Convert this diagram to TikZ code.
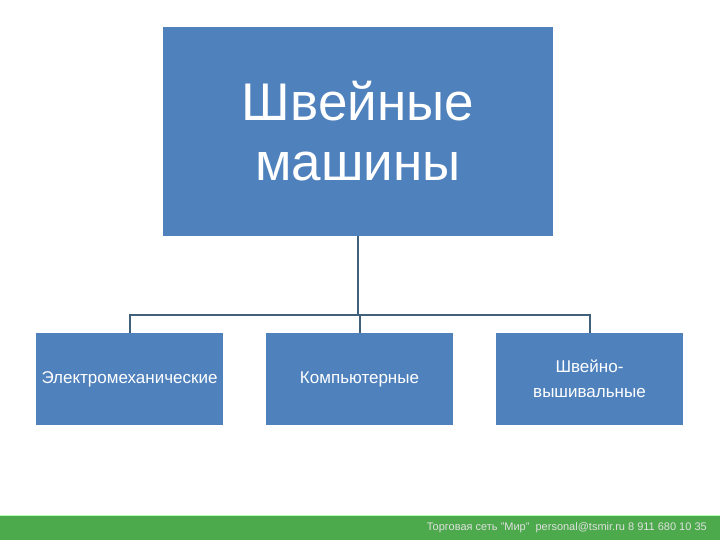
\documentclass[tikz,border=0pt]{standalone}
\usepackage{fontspec}
\setmainfont{Liberation Sans}
\definecolor{boxblue}{HTML}{4F81BD}
\definecolor{linecol}{HTML}{41607A}
\definecolor{footgreen}{HTML}{4CAA4C}
\begin{document}
\begin{tikzpicture}[x=1pt,y=-1pt,
  bigbox/.style={fill=boxblue,draw=none,minimum width=390pt,minimum height=209pt,text=white,align=center,inner sep=0pt},
  smallbox/.style={fill=boxblue,draw=none,minimum width=187pt,minimum height=92pt,text=white,align=center,inner sep=0pt,font=\fontsize{17}{25}\selectfont},
  conn/.style={draw=linecol,line width=2pt}]
\useasboundingbox (0,0) rectangle (720,540);
\fill[white] (0,0) rectangle (720,540);
\node[bigbox,font=\fontsize{53}{60}\selectfont] (top) at (358,131.5) {Швейные\\машины};
\node[smallbox] (b1) at (129.5,379) {Электромеханические};
\node[smallbox] (b2) at (359.5,379) {Компьютерные};
\node[smallbox] (b3) at (589.5,379) {Швейно-\\вышивальные};
\coordinate (hub) at (358,315);
\draw[conn] (top.south) -- (hub);
\draw[conn] (b1.north) |- (hub);
\draw[conn] (b3.north) |- (hub);
\draw[conn] (b2.north) -- (b2.north |- hub);
\fill[footgreen] (0,515) rectangle (720,540);
\draw[green!30!white,line width=1pt] (0,515.5) -- (720,515.5);
\node[anchor=east,text=white!88!black,font=\fontsize{11}{13}\selectfont,inner sep=0pt] (foot) at (707,527.5) {Торговая сеть "Мир" \ personal@tsmir.ru 8 911 680 10 35};
\end{tikzpicture}
\end{document}
